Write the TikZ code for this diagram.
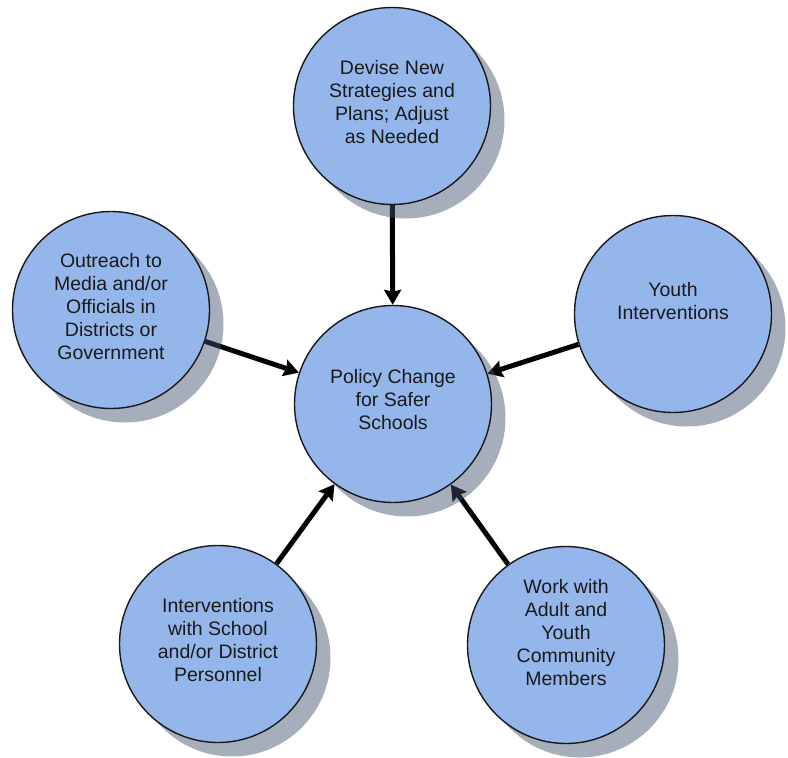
\documentclass[tikz,border=0pt]{standalone}
\usepackage{fontspec}
\setmainfont{Liberation Sans}
\usetikzlibrary{arrows.meta,shadows}

\definecolor{bubblefill}{RGB}{148,182,235}
\definecolor{shadowcol}{RGB}{66,82,110}
\definecolor{textcol}{RGB}{26,26,26}
\pgfdeclarelayer{background}
\pgfsetlayers{background,main}

\begin{document}
\begin{tikzpicture}[x=1pt,y=-1pt,>={Stealth[length=15pt,width=17pt,inset=2pt]},
    main node/.style={circle,draw=black!90,line width=1.4pt,fill=bubblefill,
      minimum size=197pt,inner sep=0pt,
      drop shadow={shadow xshift=14pt,shadow yshift=-14pt,fill=shadowcol,opacity=0.47}},
    main text/.style={align=center,text=textcol,font=\fontsize{19.5}{23}\selectfont}]

\useasboundingbox (0,0) rectangle (788,758);

\node[main node, label={[main text,yshift=4pt]center:Policy Change\\for Safer\\Schools}] (policy) at (393,404) {};
\node[main node, label={[main text,yshift=4pt]center:Devise New\\Strategies and\\Plans; Adjust\\as Needed}] (devise) at (392,106) {};
\node[main node, label={[main text,yshift=3pt]center:Outreach to\\Media and/or\\Officials in\\Districts or\\Government}] (outreach) at (111,310) {};
\node[main node, label={[main text,yshift=13pt]center:Youth\\Interventions}] (youth) at (673,314) {};
\node[main node, label={[main text,yshift=4pt]center:Interventions\\with School\\and/or District\\Personnel}] (staff) at (218,644) {};
\node[main node, label={[main text,yshift=12pt]center:Work with\\Adult and\\Youth\\Community\\Members}] (community) at (566,645) {};

\begin{pgfonlayer}{background}
\path[->,line width=5pt]
(devise) edge (policy)
(outreach) edge (policy)
(youth) edge (policy)
(staff) edge (policy)
(community) edge (policy);
\end{pgfonlayer}
\end{tikzpicture}
\end{document}
